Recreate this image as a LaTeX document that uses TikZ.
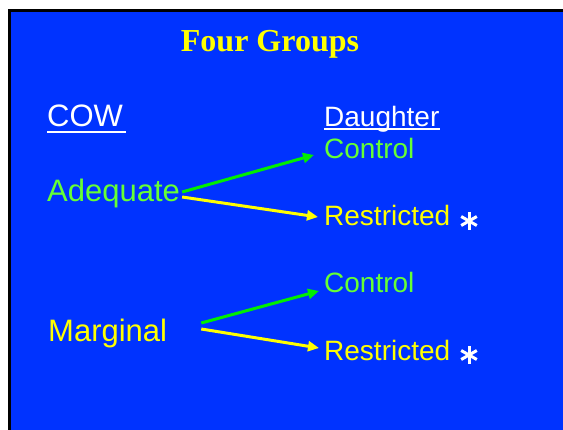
\documentclass[tikz,border=0pt]{standalone}
\usepackage{fontspec}
\setmainfont{Liberation Sans}
\newfontfamily\titlefont{Liberation Serif}
\usetikzlibrary{arrows.meta}
\definecolor{bgblue}{HTML}{0033FF}
\definecolor{txtgreen}{HTML}{66FF33}
\definecolor{arrgreen}{HTML}{00EE00}
\definecolor{txtyellow}{HTML}{FFFF00}
\tikzset{
  lbl/.style={anchor=base west, inner sep=0pt, font=\fontsize{28}{34}\selectfont},
  biglbl/.style={anchor=base west, inner sep=0pt, font=\fontsize{31}{36}\selectfont},
  star/.style={minimum size=20pt, inner sep=0pt, path picture={
      \foreach \a in {90,30,-30}
        \draw[white, line width=3pt] (path picture bounding box.center) ++(\a:9pt) -- ++(\a+180:18pt);}},
  arr/.style={line width=3pt, -{Triangle[length=11pt,width=10pt]}},
  uline/.style={draw=white, line width=2pt}
}
\begin{document}
\begin{tikzpicture}[x=1pt,y=-1pt]
\useasboundingbox (0,0) rectangle (563,430);
\fill[black] (8,9) rectangle (563,430);
\fill[bgblue] (11,12) rectangle (563,430);
\node[anchor=base, inner sep=0pt, text=txtyellow, font=\titlefont\bfseries\fontsize{32}{38}\selectfont] (title) at (270,52) {Four Groups};
\node[biglbl, text=white] (cow) at (47,127) {COW};
\node[lbl, text=white] (dau) at (324,127) {Daughter};
\draw[uline] (47,132.5) -- (126,132.5);
\draw[uline] (324,129.5) -- (440,129.5);
\node[lbl, text=txtgreen] (ctlA) at (324,159) {Control};
\node[biglbl, text=txtgreen] (adq) at (47,202) {Adequate};
\node[lbl, text=txtyellow] (resA) at (324,226) {Restricted};
\node[star] (starA) at (469,221) {};
\node[lbl, text=txtgreen] (ctlB) at (324,293) {Control};
\node[biglbl, text=txtyellow] (mrg) at (48,342) {Marginal};
\node[lbl, text=txtyellow] (resB) at (324,361) {Restricted};
\node[star] (starB) at (469,355) {};
\draw[arr, draw=arrgreen, fill=arrgreen] ([xshift=2pt,yshift=10pt]adq.base east) -- ([xshift=-10pt,yshift=4pt]ctlA.base west);
\draw[arr, draw=txtyellow, fill=txtyellow] ([xshift=2pt,yshift=5pt]adq.base east) -- ([xshift=-6pt,yshift=9pt]resA.base west);
\draw[arr, draw=arrgreen, fill=arrgreen] ([xshift=34pt,yshift=19pt]mrg.base east) -- ([xshift=-5pt,yshift=2pt]ctlB.base west);
\draw[arr, draw=txtyellow, fill=txtyellow] ([xshift=34pt,yshift=13pt]mrg.base east) -- ([xshift=-5pt,yshift=13pt]resB.base west);
\end{tikzpicture}
\end{document}
